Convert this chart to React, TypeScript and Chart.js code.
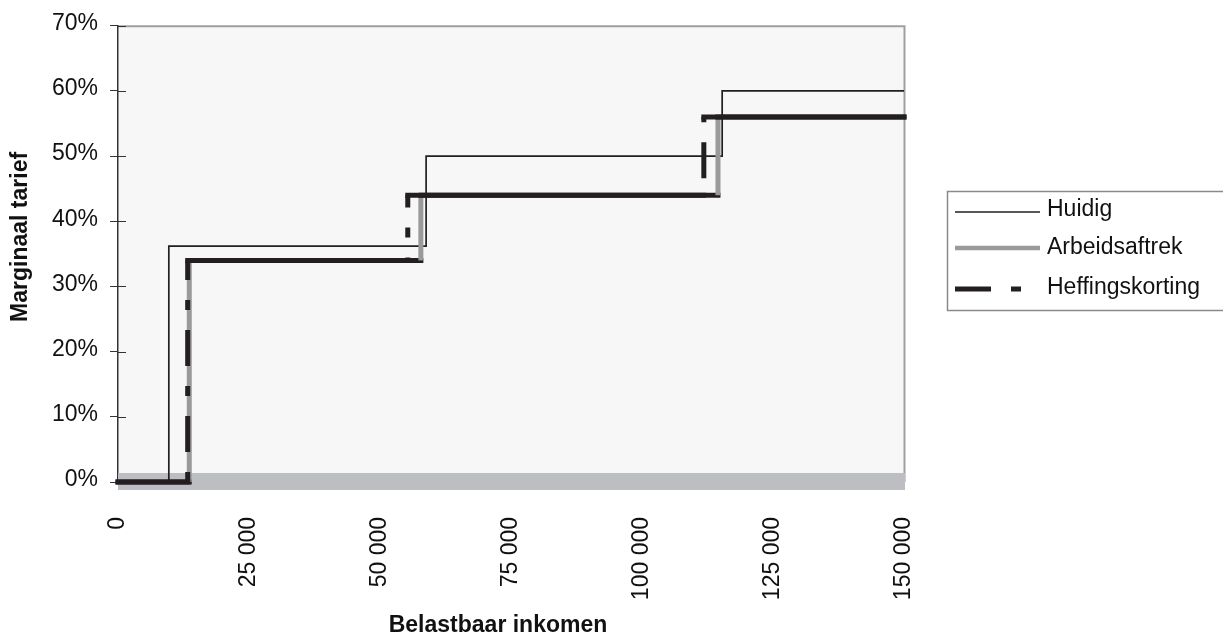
import React, { useEffect, useRef } from "react";
import { Chart, registerables } from "chart.js";

Chart.register(...registerables);

// ---- data ----
const seriesNames = ["Huidig", "Arbeidsaftrek", "Heffingskorting"];
const huidigX = [0, 9700, 58800, 115300, 150000];
const huidigY = [0, 36.2, 50, 60, 60];
const arbeidsX = [0, 13600, 57800, 114500, 150000];
const arbeidsY = [0, 34, 44, 56, 56];
const heffingX = [0, 13300, 55300, 111800, 150000];
const heffingY = [0, 34, 44, 56, 56];
const xTickValues = [0, 25000, 50000, 75000, 100000, 125000, 150000];
const yTickValues = [0, 10, 20, 30, 40, 50, 60, 70];
const xTitle = "Belastbaar inkomen";
const yTitle = "Marginaal tarief";

// ---- styles ----
const FONT = "'Liberation Sans', Arial, Helvetica, sans-serif";
const FS = 23;
const DARK = "#231f20";
const GREY = "#9a9a9a";
const DASH = [36, 20, 10, 20];
const HEFF_DASH_OFFSETS = [56, 33, 69];

// step corners built from the series arrays
function stepCorners(xs: number[], ys: number[]) {
  const pts: { x: number; y: number }[] = [{ x: xs[0], y: ys[0] }];
  for (let i = 1; i < xs.length; i++) {
    pts.push({ x: xs[i], y: ys[i - 1] });
    if (ys[i] !== ys[i - 1]) pts.push({ x: xs[i], y: ys[i] });
  }
  return pts;
}

function isVertical(c: any) {
  return c.p0.parsed.x === c.p1.parsed.x;
}

function verticalIndex(c: any) {
  const pts = c.chart.data.datasets[c.datasetIndex].data as { x: number; y: number }[];
  let n = 0;
  for (let i = 0; i < c.p0DataIndex; i++) {
    if (pts[i].x === pts[i + 1].x) n++;
  }
  return n;
}

function fmtThousands(v: number) {
  if (v === 0) return "0";
  const s = String(Math.round(v));
  return s.replace(/\B(?=(\d{3})+(?!\d))/g, " ");
}

const decorPlugin = {
  id: "decor",
  beforeDraw(chart: any) {
    const { ctx, chartArea } = chart;
    const { left, right, top, bottom } = chartArea;
    ctx.save();
    ctx.fillStyle = "#f7f7f7";
    ctx.fillRect(left, top, right - left, bottom - top);
    ctx.strokeStyle = "#a0a0a0";
    ctx.lineWidth = 2;
    ctx.beginPath();
    ctx.moveTo(left, top + 0.5);
    ctx.lineTo(right + 0.5, top + 0.5);
    ctx.lineTo(right + 0.5, bottom);
    ctx.stroke();
    ctx.restore();
  },
  beforeDatasetsDraw(chart: any) {
    const { ctx, chartArea, scales } = chart;
    const y0 = scales.y.getPixelForValue(0);
    ctx.save();
    ctx.strokeStyle = "#333";
    ctx.lineWidth = 1;
    yTickValues.forEach((v) => {
      const py = Math.round(scales.y.getPixelForValue(v)) + 0.5;
      ctx.beginPath();
      ctx.moveTo(chartArea.left, py);
      ctx.lineTo(chartArea.left + 8, py);
      ctx.stroke();
    });
    ctx.fillStyle = "#bdbec2";
    ctx.fillRect(chartArea.left, y0 - 9, chartArea.right - chartArea.left + 1, 17);
    ctx.restore();
  },
  afterDraw(chart: any) {
    const { ctx, chartArea } = chart;
    // axis titles
    ctx.save();
    ctx.font = `bold ${FS}px ${FONT}`;
    ctx.fillStyle = "#111";
    ctx.textAlign = "center";
    ctx.textBaseline = "middle";
    ctx.fillText(xTitle, (chartArea.left + chartArea.right) / 2 - 13, 626);
    ctx.translate(21, (chartArea.top + chartArea.bottom) / 2 - 17);
    ctx.rotate(-Math.PI / 2);
    ctx.fillText(yTitle, 0, 0);
    ctx.restore();

    // legend
    ctx.save();
    ctx.strokeStyle = "#8a8a8a";
    ctx.lineWidth = 1.5;
    ctx.strokeRect(947.5, 191.5, 300, 119);
    const rows = [210, 248, 288];
    const lineRows = [212, 248, 289];
    const widths = [1.7, 4.5, 5];
    const colors = [DARK, GREY, DARK];
    const dashes = [[], [], DASH];
    seriesNames.forEach((name, i) => {
      ctx.save();
      ctx.strokeStyle = colors[i];
      ctx.lineWidth = widths[i];
      ctx.setLineDash(dashes[i]);
      ctx.lineCap = "butt";
      ctx.beginPath();
      ctx.moveTo(955, lineRows[i]);
      ctx.lineTo(1040, lineRows[i]);
      ctx.stroke();
      ctx.restore();
      ctx.font = `${FS}px ${FONT}`;
      ctx.fillStyle = "#111";
      ctx.textAlign = "left";
      ctx.textBaseline = "middle";
      ctx.fillText(name, 1047, rows[i]);
    });
    ctx.restore();
  },
};

export default function App() {
  const ref = useRef<HTMLCanvasElement | null>(null);
  useEffect(() => {
    if (!ref.current) return;
    const chart = new Chart(ref.current, {
      type: "line",
      data: {
        datasets: [
          {
            label: seriesNames[0],
            data: stepCorners(huidigX, huidigY),
            borderColor: DARK,
            borderWidth: 1.7,
            pointRadius: 0,
            tension: 0,
            clip: false,
            order: 3,
          },
          {
            label: seriesNames[1],
            data: stepCorners(arbeidsX, arbeidsY),
            borderColor: GREY,
            borderWidth: 5,
            pointRadius: 0,
            tension: 0,
            clip: false,
            order: 2,
            segment: {
              borderColor: (c: any) => (isVertical(c) ? GREY : DARK),
              borderCapStyle: (c: any) => (isVertical(c) ? "butt" : "square"),
            },
          },
          {
            label: seriesNames[2],
            data: stepCorners(heffingX, heffingY),
            borderColor: DARK,
            borderWidth: 5,
            pointRadius: 0,
            tension: 0,
            clip: false,
            order: 1,
            segment: {
              borderDash: (c: any) => (isVertical(c) ? DASH : []),
              borderDashOffset: (c: any) => (isVertical(c) ? HEFF_DASH_OFFSETS[verticalIndex(c)] || 0 : 0),
              borderCapStyle: (c: any) => (isVertical(c) ? "butt" : "square"),
            },
          },
        ],
      },
      options: {
        responsive: false,
        animation: false,
        events: [],
        layout: { padding: { top: 25, right: 319, left: 0, bottom: 0 } },
        plugins: {
          legend: { display: false },
          tooltip: { enabled: false },
        },
        scales: {
          x: {
            type: "linear",
            min: 0,
            max: 150000,
            afterBuildTicks: (s: any) => {
              s.ticks = xTickValues.map((v) => ({ value: v }));
            },
            afterFit: (s: any) => {
              s.height = 154;
            },
            grid: { display: false, drawTicks: false },
            border: { display: false },
            ticks: {
              minRotation: 90,
              maxRotation: 90,
              padding: 35,
              color: "#111",
              font: { family: FONT, size: FS },
              callback: (v: any) => fmtThousands(Number(v)),
            },
          },
          y: {
            min: 0,
            max: 70,
            afterBuildTicks: (s: any) => {
              s.ticks = yTickValues.map((v) => ({ value: v }));
            },
            afterFit: (s: any) => {
              s.width = 118;
            },
            grid: {
              drawOnChartArea: false,
              drawTicks: true,
              tickLength: 8,
              color: "#333",
            },
            border: { display: true, color: "#333", width: 1.5 },
            ticks: {
              padding: 12,
              labelOffset: -2,
              color: "#111",
              font: { family: FONT, size: FS },
              callback: (v: any) => `${v}%`,
            },
          },
        },
      },
      plugins: [decorPlugin],
    } as any);
    return () => chart.destroy();
  }, []);

  return (
    <div style={{ position: "absolute", left: 0, top: 0, width: 1223, height: 636 }}>
      <canvas ref={ref} width={1223} height={636} style={{ width: 1223, height: 636, display: "block" }} />
    </div>
  );
}
